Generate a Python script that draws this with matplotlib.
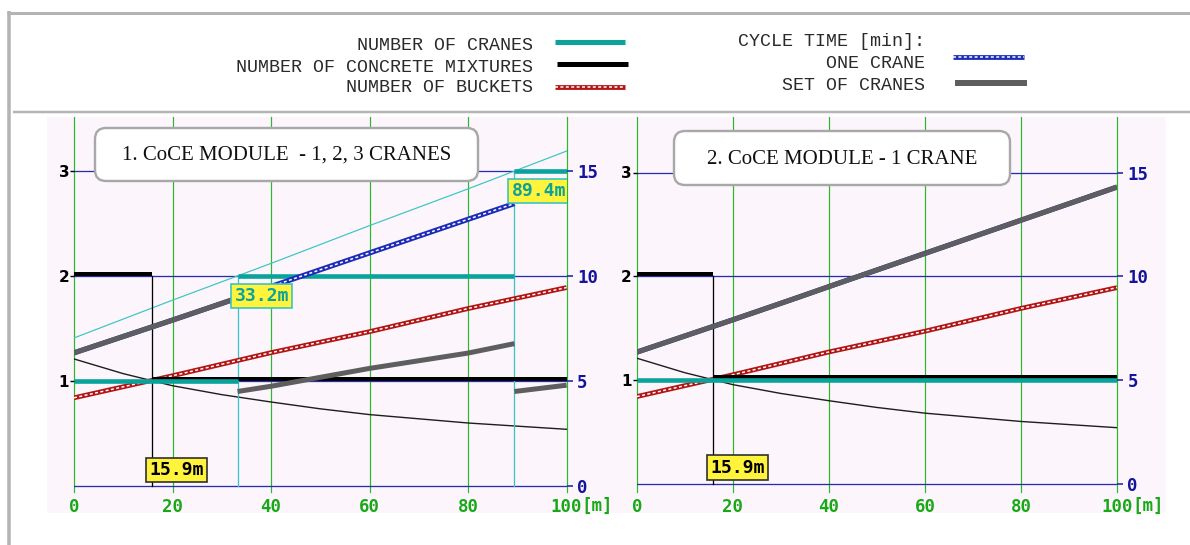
import matplotlib
matplotlib.use("Agg")
import matplotlib.pyplot as plt
from matplotlib.patches import Rectangle, FancyBboxPatch
from matplotlib.lines import Line2D
from matplotlib.transforms import IdentityTransform, offset_copy

# ---------------------------------------------------------------- data
distance = [0, 20, 40, 60, 80, 100]                       # m
buckets = [0.84, 1.05, 1.27, 1.47, 1.69, 1.89]            # number of buckets
crane_demand = [1.41, 1.77, 2.12, 2.48, 2.83, 3.19]        # required cranes

distance_fine = [0, 10, 20, 30, 40, 50, 60, 70, 80, 90, 100]
mixer_demand = [1.21, 1.07, 0.955, 0.87, 0.80, 0.735, 0.68, 0.64, 0.60, 0.57, 0.54]

cycle_distance = [0, 20, 33.2, 40, 60, 80, 89.4, 100]
cycle_one_crane = [6.34, 7.9, 8.95, 9.5, 11.1, 12.7, 13.45, 14.3]   # min

set_two_distance = [33.2, 40, 60, 80, 89.4]
set_two_cycle = [4.5, 4.75, 5.6, 6.33, 6.78]                          # min
set_three_distance = [89.4, 100]
set_three_cycle = [4.5, 4.8]                                          # min

crane_breaks_m1 = [33.2, 89.4]
crane_counts_m1 = [1, 2, 3]
crane_breaks_m2 = []
crane_counts_m2 = [1]
mixer_breaks = [15.9]
mixer_counts = [2, 1]

x_ticks = [0, 20, 40, 60, 80, 100]
x_tick_labels = ["0", "20", "40", "60", "80", "100"]
count_ticks = [1, 2, 3]
count_tick_labels = ["1", "2", "3"]
minute_ticks = [0, 5, 10, 15]
minute_tick_labels = ["0", "5", "10", "15"]

titles = ["1. CoCE MODULE  - 1, 2, 3 CRANES", "2. CoCE MODULE - 1 CRANE"]

# ---------------------------------------------------------------- style
W, H = 1190, 545
PX = 0.72  # points per pixel at 100 dpi

C_TEAL = "#0aa39c"
C_CYAN = "#3cc4c4"
C_RED = "#b31414"
C_BLUE = "#1c2cb8"
C_GRAY = "#5e5e5e"
C_GRID_V = "#2cb82c"
C_GRID_H = "#2b2bb0"
C_LABEL_BLUE = "#14149a"
C_LABEL_GREEN = "#18a818"
C_PINK = "#fcf6fc"
C_BORDER = "#b4b4b4"
C_YELLOW = "#fff33c"

MONO = "DejaVu Sans Mono"

fig = plt.figure(figsize=(W / 100, H / 100), dpi=100)
ident = IdentityTransform()


def img(x, y):
    """image pixel coords (origin top-left) -> display coords"""
    return x, H - y


# page frame, legend separator and plotting background
fig.add_artist(Rectangle(img(47, 513), 1166 - 47, 513 - 117, transform=ident,
                         facecolor=C_PINK, edgecolor="none", zorder=-2))
for (xa, ya), (xb, yb), lw in [((7, 12.5), (1190, 12.5), 3),
                               ((9, 11), (9, 545), 3.5),
                               ((13, 111.5), (1190, 111.5), 2.5)]:
    p0, p1 = img(xa, ya), img(xb, yb)
    fig.add_artist(Line2D([p0[0], p1[0]], [p0[1], p1[1]], transform=ident,
                          color=C_BORDER, lw=lw * PX, zorder=-1,
                          solid_capstyle="butt"))


def chain_line(ax, x, y, color, lw_px=4.8, zorder=3, transform=None):
    kw = {} if transform is None else {"transform": transform}
    ax.plot(x, y, color=color, lw=lw_px * PX, solid_capstyle="butt",
            zorder=zorder, **kw)
    ax.plot(x, y, color="white", lw=1.5 * PX, dashes=(2.0, 1.6),
            zorder=zorder + 0.01, **kw)


def step_segments(breaks, counts):
    edges = [0] + list(breaks) + [100]
    return [(edges[i], edges[i + 1], c) for i, c in enumerate(counts)]


def value_box(ax, x, y, dy_px, text, color, edge):
    ann = ax.annotate(text, xy=(x, y), xytext=(-3, dy_px),
                      textcoords="offset pixels", ha="left", va="center",
                      fontfamily=MONO, fontweight="bold", fontsize=13,
                      color=color, zorder=10, annotation_clip=False,
                      bbox=dict(boxstyle="square,pad=0.18", facecolor=C_YELLOW,
                                edgecolor=edge, lw=1.2))
    ann.set_clip_on(True)
    ann.set_clip_box(ax.bbox)
    return ann


def panel(x0px, x100px, y0px, y3px, title, title_box, crane_breaks, crane_counts,
          one_crane_until, set_segments):
    top, bottom = 117, 492
    ppu = (y0px - y3px) / 3.0
    ylo, yhi = (y0px - bottom) / ppu, (y0px - top) / ppu
    ax = fig.add_axes([x0px / W, (H - bottom) / H, (x100px - x0px) / W,
                       (bottom - top) / H])
    ax.set_facecolor("none")
    ax.set_xlim(0, 100)
    ax.set_ylim(ylo, yhi)
    for s in ax.spines.values():
        s.set_visible(False)

    # grid
    for xv in x_ticks:
        ax.axvline(xv, color=C_GRID_V, lw=1.2 * PX, zorder=1, clip_on=False)
    for yv in [0] + count_ticks:
        ax.axhline(yv, color=C_GRID_H, lw=1.3 * PX, zorder=1)

    # ticks
    ax.set_xticks(x_ticks)
    ax.set_xticklabels(x_tick_labels, fontfamily=MONO, fontweight="bold",
                       fontsize=12.5, color=C_LABEL_GREEN)
    ax.tick_params(axis="x", length=0, pad=4.2)
    ax.set_yticks(count_ticks)
    ax.set_yticklabels(count_tick_labels, fontfamily="DejaVu Sans",
                       fontweight="bold", fontsize=11, color="black")
    ax.tick_params(axis="y", length=3, width=1, color="black", pad=0.5)
    ax.annotate("[m]", xy=(100, 0), xycoords=("data", "axes fraction"),
                xytext=(15, -14), textcoords="offset pixels", ha="left",
                va="center", fontfamily=MONO, fontweight="bold", fontsize=12.5,
                color=C_LABEL_GREEN, annotation_clip=False)

    # demand curves
    if crane_breaks:
        ax.plot(distance, crane_demand, color=C_CYAN, lw=1.2 * PX, zorder=2)
    ax.plot(distance_fine, mixer_demand, color="#1e1e1e", lw=1.4 * PX, zorder=2)

    # buckets
    chain_line(ax, distance, buckets, C_RED, zorder=3)

    # concrete mixtures (step)
    raised = offset_copy(ax.transData, fig=fig, x=0, y=2.5, units="dots")
    for xa, xb, c in step_segments(mixer_breaks, mixer_counts):
        ax.plot([xa, xb], [c, c], color="black", lw=4 * PX, zorder=4,
                solid_capstyle="butt", transform=raised)
    for xb in mixer_breaks:
        ax.plot([xb, xb], [0, mixer_counts[0]], color="black", lw=1.3 * PX,
                zorder=2)

    # cranes (step)
    for xa, xb, c in step_segments(crane_breaks, crane_counts):
        ax.plot([xa, xb], [c, c], color=C_TEAL, lw=4.6 * PX, zorder=5,
                solid_capstyle="butt")
    for xb, c in zip(crane_breaks, crane_counts[1:]):
        ax.plot([xb, xb], [0, c], color=C_CYAN, lw=1.3 * PX, zorder=2)

    # cycle times on the minute scale
    ax2 = ax.twinx()
    ax2.set_ylim(ylo * 5, yhi * 5)
    ax2.set_facecolor("none")
    for s in ax2.spines.values():
        s.set_visible(False)
    ax2.set_yticks(minute_ticks)
    ax2.set_yticklabels(minute_tick_labels, fontfamily=MONO, fontweight="bold",
                        fontsize=12.5, color=C_LABEL_BLUE)
    ax2.tick_params(axis="y", length=4.5, width=1.2, color=C_GRID_H, pad=3)

    xs = [d for d in cycle_distance if d <= one_crane_until]
    ys = cycle_one_crane[:len(xs)]
    chain_line(ax2, xs, ys, C_BLUE, lw_px=5.2, zorder=3)
    for sx, sy in set_segments:
        ax2.plot(sx, sy, color=C_GRAY, lw=5 * PX, zorder=4,
                 solid_capstyle="butt")

    # value labels at the break points
    for xb in mixer_breaks:
        value_box(ax2, xb, 0, 16, f"{xb:.1f}m", "black", "#303030")
    for xb, c in zip(crane_breaks, crane_counts[1:]):
        value_box(ax2, xb, c * 5, -20, f"{xb:.1f}m", C_TEAL, C_CYAN)

    # title box
    bx0, by0, bx1, by1 = title_box
    fig.add_artist(FancyBboxPatch(img(bx0, by1), bx1 - bx0, by1 - by0,
                                  boxstyle="round,pad=0,rounding_size=11",
                                  transform=ident, facecolor="white",
                                  edgecolor="#a8a8a8", lw=2.4 * PX, zorder=10))
    cx, cy = img((bx0 + bx1) / 2, (by0 + by1) / 2 + 1)
    fig.text(cx, cy, title, transform=ident, ha="center", va="center",
             fontfamily="Liberation Serif", fontsize=15, color="#101010",
             zorder=11)
    return ax, ax2


panel(74, 566.6, 486, 171, titles[0], (95, 128, 478, 181),
      crane_breaks_m1, crane_counts_m1, 89.4,
      [(cycle_distance[:3], cycle_one_crane[:3]),
       (set_two_distance, set_two_cycle),
       (set_three_distance, set_three_cycle)])

panel(636.8, 1117, 483.7, 172.5, titles[1], (674, 131, 1010, 185),
      crane_breaks_m2, crane_counts_m2, 100,
      [(cycle_distance, cycle_one_crane)])

# ---------------------------------------------------------------- legend
LEG_FONT = dict(fontfamily="Liberation Mono", fontsize=13.2, color="#2a2a2a",
                ha="right", va="center", transform=ident)
for text, (x, y) in [("NUMBER OF CRANES", (533, 46)),
                     ("NUMBER OF CONCRETE MIXTURES", (533, 67)),
                     ("NUMBER OF BUCKETS", (533, 88)),
                     ("CYCLE TIME [min]:", (925, 42)),
                     ("ONE CRANE", (925, 63)),
                     ("SET OF CRANES", (925, 85))]:
    fig.text(*img(x, y), text, **LEG_FONT)


def legend_line(xa, xb, y, color, lw_px, chain=False):
    p0, p1 = img(xa, y), img(xb, y)
    fig.add_artist(Line2D([p0[0], p1[0]], [p0[1], p1[1]], transform=ident,
                          color=color, lw=lw_px * PX, solid_capstyle="butt"))
    if chain:
        fig.add_artist(Line2D([p0[0], p1[0]], [p0[1], p1[1]], transform=ident,
                              color="white", lw=1.5 * PX, dashes=(2.0, 1.6)))


legend_line(555, 625, 42, C_TEAL, 5)
legend_line(557, 628, 64, "black", 5)
legend_line(555, 625, 87, C_RED, 4.8, chain=True)
legend_line(953, 1024, 57, C_BLUE, 4.8, chain=True)
legend_line(955, 1027, 83, C_GRAY, 6)

fig.savefig("out.png", dpi=100)
